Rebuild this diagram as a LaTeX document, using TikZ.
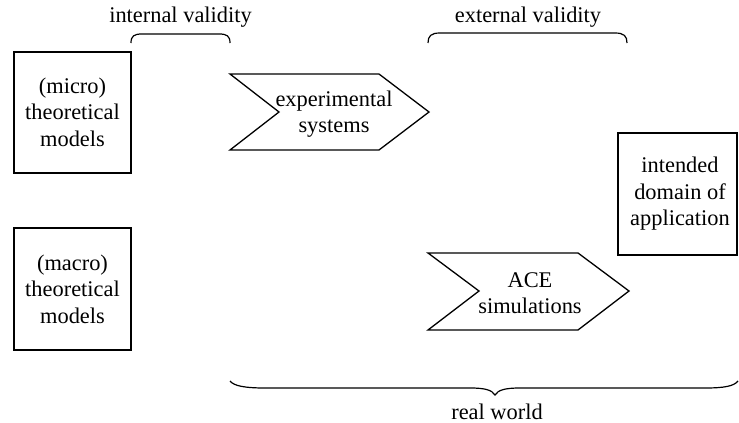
\documentclass[tikz,border=0pt]{standalone}
\usepackage{fontspec}
\setmainfont{Liberation Serif}
\begin{document}
\begin{tikzpicture}[x=1pt,y=-1pt,
  every node/.style={font=\fontsize{22.4}{26.5}\selectfont},
  line/.style={line width=1.3pt,black},
  boxtext/.style={align=center,inner sep=0pt},
  brace/.style={line width=1.2pt,black}]
\useasboundingbox (0,0) rectangle (739,423);

% boxes for the theoretical models and the intended domain
\draw[line] (14,52) rectangle (131,173);
\node[boxtext] (micro) at (72.5,112) {(micro)\\theoretical\\models};
\draw[line] (14,228) rectangle (131,350);
\node[boxtext] (macro) at (72.5,289) {(macro)\\theoretical\\models};
\draw[line] (618,133) rectangle (737,255);
\node[boxtext] (domain) at (680,194) {intended\\domain of\\application};

% chevrons
\draw[line,line join=miter] (230,74) -- (379,74) -- (429,112) -- (379,150) -- (230,150) -- (279,112) -- cycle;
\node[boxtext] (exp) at (334,114) {experimental\\systems};
\draw[line,line join=miter] (428,253) -- (578,253) -- (629,291) -- (578,330) -- (428,330) -- (479,291) -- cycle;
\node[boxtext] (ace) at (530,293) {ACE\\simulations};

% braces with their labels
\coordinate (ivl) at (131,43);
\coordinate (ivr) at (230,43);
\draw[brace] (ivl) .. controls (131,36) and (134,34) .. (142,34) -- (219,34) .. controls (227,34) and (230,36) .. (ivr);
\node (internal) at (180.5,17) {internal validity};

\coordinate (evl) at (428,43);
\coordinate (evr) at (627,43);
\draw[brace] (evl) .. controls (428,36) and (431,33) .. (440,33) -- (615,33) .. controls (624,33) and (627,36) .. (evr);
\node (external) at (528,17) {external validity};

\coordinate (rwl) at (230,381);
\coordinate (rwr) at (738,381);
\coordinate (rwm) at (495,395);
\draw[brace] (rwl) .. controls (234,386) and (245,388) .. (265,388) -- (470,388) .. controls (485,388) and (492,390) .. (rwm)
  .. controls (498,390) and (505,388) .. (520,388) -- (705,388) .. controls (725,388) and (734,386) .. (rwr);
\node (real) at (497,412) {real world};
\end{tikzpicture}
\end{document}
